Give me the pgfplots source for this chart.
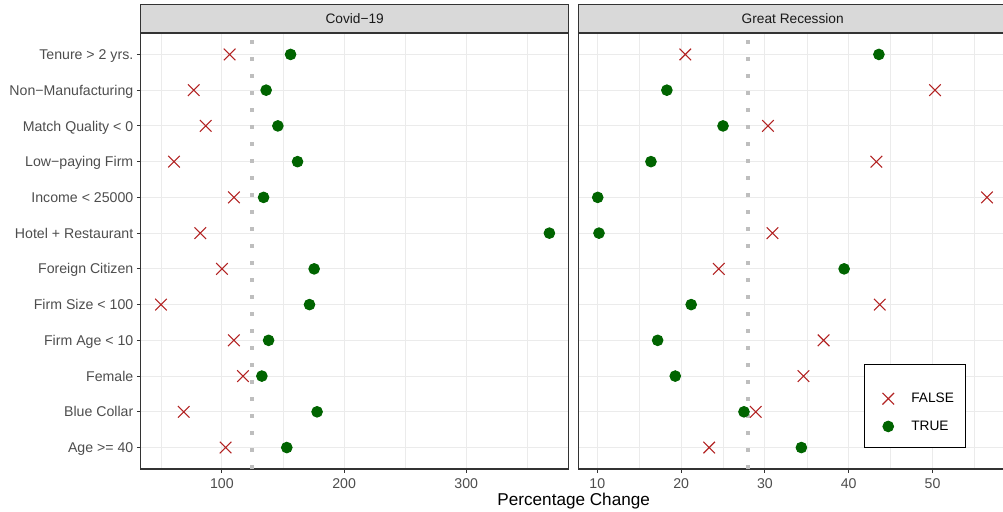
\documentclass[border=0pt]{standalone}
\usepackage{fontspec}
\setmainfont{Liberation Sans}
\usepackage{pgfplots}
\usepackage{pgfplotstable}
\pgfplotsset{compat=1.18}

\definecolor{gray10}{HTML}{1A1A1A}
\definecolor{gray20}{HTML}{333333}
\definecolor{gray30}{HTML}{4D4D4D}
\definecolor{gray92}{HTML}{EBEBEB}
\definecolor{gray85}{HTML}{D9D9D9}
\definecolor{fbrick}{HTML}{B22222}
\definecolor{dgreen}{HTML}{006400}
\definecolor{dotgray}{HTML}{BEBEBE}

% y: 1 = Age >= 40 ... 12 = Tenure > 2 yrs.
\pgfplotstableread{
y  covF   covT   recF   recT
1  103.0  153.1  23.35  34.35
2  68.7   177.9  28.9   27.5
3  117.2  132.7  34.6   19.3
4  109.8  138.2  37.0   17.2
5  50.1   171.7  43.7   21.2
6  100.0  175.5  24.5   39.45
7  82.3   368.1  30.9   10.2
8  109.8  134.1  56.5   10.05
9  60.8   161.9  43.3   16.4
10 86.7   145.8  30.36  25.0
11 76.9   136.2  50.3   18.3
12 106.3  156.2  20.5   43.6
}\datatab

\newcommand{\tfont}{\fontsize{13.75}{16}\selectfont}
\newcommand{\afont}{\fontsize{14.2}{16}\selectfont}

\pgfplotsset{
  panel/.style={
    scale only axis, height=436bp, width=428bp,
    ymin=0.4, ymax=12.6,
    ytick={1,...,12},
    axis line style={draw=gray20, line width=1.2bp},
    xmajorgrids, ymajorgrids, xminorgrids,
    major grid style={draw=gray92, line width=1.07bp},
    minor grid style={draw=gray92, line width=0.55bp},
    tick align=outside, major tick length=3.7bp, minor tick length=0bp,
    tick style={draw=gray20, line width=1.07bp},
    xtick pos=bottom, ytick pos=left,
    tick label style={font=\afont, text=gray30},
    xticklabel style={anchor=north, inner sep=0pt, yshift=-6bp},
    yticklabel style={anchor=base east, inner sep=0pt, xshift=-3.5bp, yshift=-5.1bp},
    /pgf/number format/assume math mode=true,
    clip=false,
    every axis plot/.append style={only marks},
  },
  fmark/.style={mark=x, mark size=8.2bp, mark options={draw=fbrick, line width=1.07bp}},
  tmark/.style={mark=*, mark size=5.3bp, mark options={draw=dgreen, fill=dgreen, line width=1bp}},
}

\begin{document}
\begin{tikzpicture}
\path[use as bounding box] (0bp,0bp) rectangle (1003bp,512bp);

\begin{axis}[panel, at={(140.7bp,43bp)}, anchor=south west,
  xmin=33.5, xmax=383.9,
  xtick={100,200,300}, minor xtick={50,150,250,350},
  yticklabels={Age >= 40, Blue Collar, Female, Firm Age < 10, Firm Size < 100,
    Foreign Citizen, Hotel + Restaurant, Income < 25000, Low−paying Firm,
    Match Quality < 0, Non−Manufacturing, Tenure > 2 yrs.},
]
\addplot[draw=dotgray, line width=4bp, dash pattern=on 4bp off 13bp, sharp plot, forget plot, no marks]
  coordinates {(124.8,0.4) (124.8,12.6)};
\addplot[fmark] table[x=covF, y=y] {\datatab};
\addplot[tmark] table[x=covT, y=y] {\datatab};
\draw[fill=gray85, draw=gray20, line width=1.2bp] (rel axis cs:0,1) rectangle ([yshift=28.3bp]rel axis cs:1,1);
\node[font=\tfont, text=gray10] at ([yshift=14.15bp]rel axis cs:0.5,1) {Covid−19};
\end{axis}

\begin{axis}[panel, at={(578.7bp,43bp)}, anchor=south west,
  xmin=7.78, xmax=58.85,
  xtick={10,20,30,40,50}, minor xtick={15,25,35,45,55},
  yticklabels={}, ytick style={draw=none},
  legend style={at={(rel axis cs:0.6666,0.0489)}, anchor=south west,
    draw=black, line width=1.07bp, fill=white, font=\tfont,
    inner xsep=11.7bp, inner ysep=13.5bp, row sep=0bp, column sep=11bp,
    nodes={inner sep=0pt, anchor=west}},
  legend cell align=left,
  legend image code/.code={\path[draw=none, fill=none] (-12bp,-7.2bp) rectangle (12bp,20.5bp);
    \draw[#1] plot coordinates {(0bp,0bp)};},
]
\addplot[draw=dotgray, line width=4bp, dash pattern=on 4bp off 13bp, sharp plot, forget plot, no marks]
  coordinates {(27.97,0.4) (27.97,12.6)};
\addplot[fmark] table[x=recF, y=y] {\datatab};
\addlegendentry{FALSE}
\addplot[tmark] table[x=recT, y=y] {\datatab};
\addlegendentry{TRUE}
\draw[fill=gray85, draw=gray20, line width=1.2bp] (rel axis cs:0,1) rectangle ([yshift=28.3bp]rel axis cs:1,1);
\node[font=\tfont, text=gray10] at ([yshift=14.15bp]rel axis cs:0.5,1) {Great Recession};
\end{axis}

\node[font=\fontsize{17.2}{20}\selectfont, text=black, anchor=base] at (573.7bp,6.3bp) {Percentage Change};
\end{tikzpicture}
\end{document}
